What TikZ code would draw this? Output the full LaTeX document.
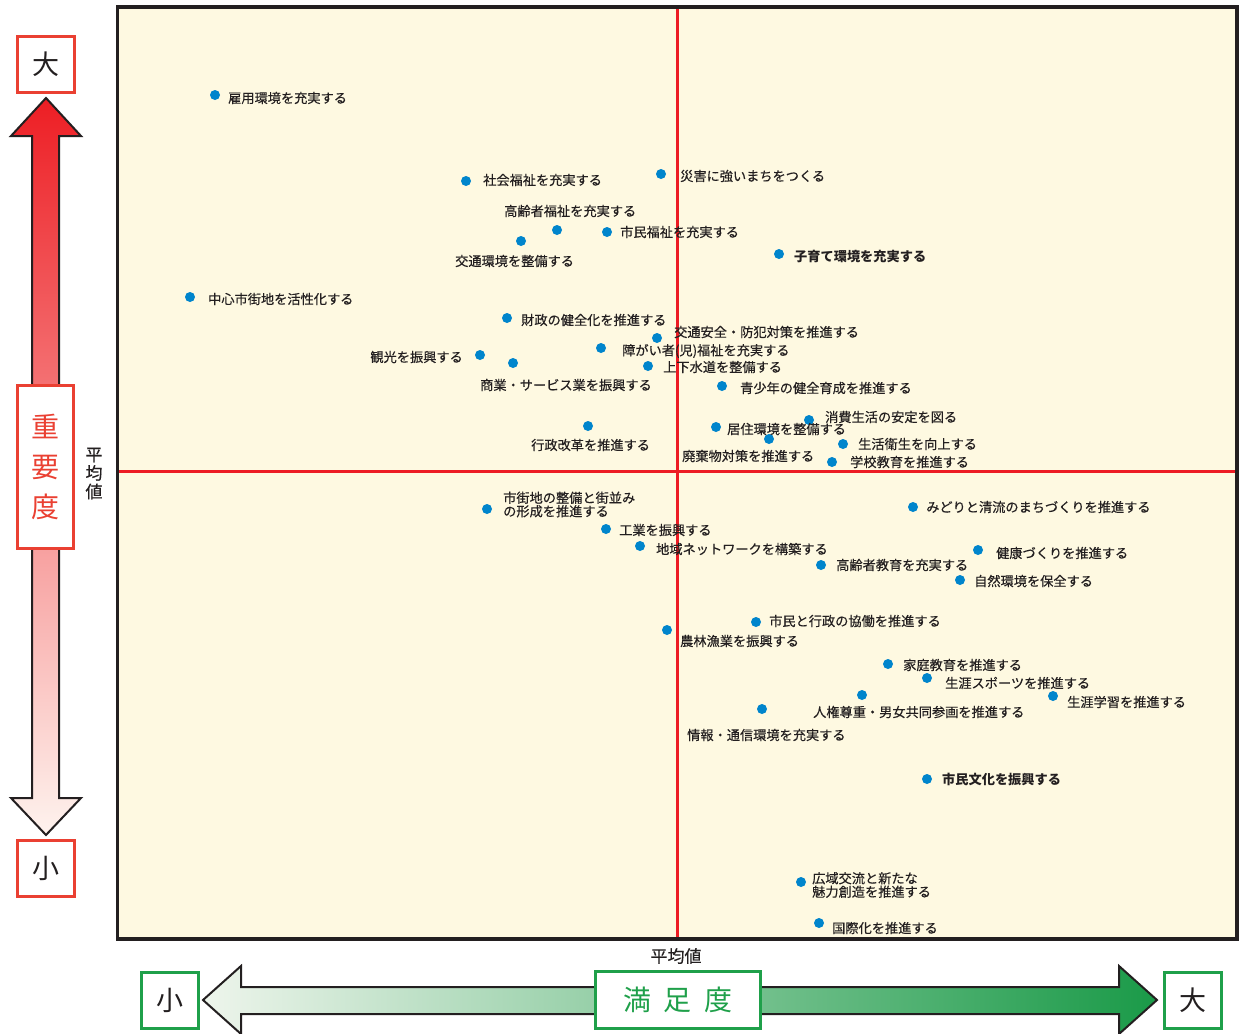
\documentclass[tikz,border=0pt]{standalone}
\usepackage{fontspec}
\setmainfont{Noto Sans CJK JP}
\newfontfamily\labelfont{Noto Sans CJK JP}[FakeBold=0.4]
\definecolor{cream}{RGB}{254,249,225}
\definecolor{inkblack}{RGB}{35,31,32}
\definecolor{avgred}{RGB}{237,28,36}
\definecolor{dotblue}{RGB}{0,133,204}
\definecolor{boxred}{RGB}{234,64,50}
\definecolor{boxgreen}{RGB}{31,160,74}
\definecolor{redtop}{RGB}{237,30,36}
\definecolor{redmid}{RGB}{242,128,96}
\definecolor{redbot}{RGB}{254,243,238}
\definecolor{greenleft}{RGB}{238,245,236}
\definecolor{greenmid}{RGB}{150,202,146}
\definecolor{greenright}{RGB}{26,154,72}
\begin{document}
\begin{tikzpicture}[x=1pt,y=-1pt,
  dot/.style={circle, fill=dotblue, draw=none, minimum size=10pt, inner sep=0pt},
  lbl/.style={anchor=west, inner sep=0pt, text=inkblack, font=\labelfont\fontsize{13.2}{13.5}\selectfont},
  endbox/.style={draw=#1, line width=3pt, fill=white, minimum width=57pt, minimum height=56pt, inner sep=0pt, text=inkblack, font=\fontsize{27}{30}\selectfont}]
\useasboundingbox (0,0) rectangle (1243,1034);
% plot area
\fill[cream] (117.5,7) rectangle (1237,939);
\draw[avgred, line width=3pt] (677,7) -- (677,939);
\draw[avgred, line width=3pt] (117.5,471) -- (1237,471);
% upper left
\node [dot] (d1) at (215,95) {};
\node [lbl] (l1) at (228,98) {雇用環境を充実する};
\node [dot] (d2) at (466,181) {};
\node [lbl] (l2) at (483,180) {社会福祉を充実する};
\node [dot] (d3) at (661,174) {};
\node [lbl] (l3) at (680,176) {災害に強いまちをつくる};
\node [dot] (d4) at (557,230) {};
\node [lbl] (l4) at (504,211) {高齢者福祉を充実する};
\node [dot] (d5) at (607,232) {};
\node [lbl] (l5) at (620,232) {市民福祉を充実する};
\node [dot] (d6) at (521,241) {};
\node [lbl] (l6) at (455,261) {交通環境を整備する};
\node [dot] (d7) at (779,254) {};
\node [lbl, font=\fontsize{13.2}{13.5}\selectfont\bfseries] (l7) at (794,257) {子育て環境を充実する};
\node [dot] (d8) at (190,297) {};
\node [lbl] (l8) at (208,299) {中心市街地を活性化する};
\node [dot] (d9) at (507,318) {};
\node [lbl] (l9) at (521,320) {財政の健全化を推進する};
\node [dot] (d10) at (657,338) {};
\node [lbl] (l10) at (674,332) {交通安全・防犯対策を推進する};
\node [dot] (d11) at (601,348) {};
\node [lbl] (l11) at (622,351) {障がい者(児)福祉を充実する};
\node [dot] (d12) at (480,355) {};
\node [lbl, anchor=east] (l12) at (463,357) {観光を振興する};
\node [dot] (d13) at (513,363) {};
\node [lbl] (l13) at (480,385) {商業・サービス業を振興する};
\node [dot] (d14) at (648,366) {};
\node [lbl] (l14) at (663,367) {上下水道を整備する};
\node [dot] (d15) at (722,386) {};
\node [lbl] (l15) at (740,388) {青少年の健全育成を推進する};
\node [dot] (d16) at (809,420) {};
\node [lbl] (l16) at (825,417) {消費生活の安定を図る};
\node [dot] (d17) at (716,427) {};
\node [lbl] (l17) at (727,429) {居住環境を整備する};
\node [dot] (d18) at (588,426) {};
\node [lbl] (l18) at (531,445) {行政改革を推進する};
\node [dot] (d19) at (769,439) {};
\node [lbl] (l19) at (682,456) {廃棄物対策を推進する};
\node [dot] (d20) at (843,444) {};
\node [lbl] (l20) at (858,444) {生活衛生を向上する};
\node [dot] (d21) at (832,462) {};
\node [lbl] (l21) at (850,462) {学校教育を推進する};
% lower half
\node [dot] (d22) at (487,509) {};
\node [lbl, align=left] (l22) at (503,504.5) {市街地の整備と街並み\\の形成を推進する};
\node [dot] (d23) at (913,507) {};
\node [lbl] (l23) at (926,507) {みどりと清流のまちづくりを推進する};
\node [dot] (d24) at (606,529) {};
\node [lbl] (l24) at (619,530) {工業を振興する};
\node [dot] (d25) at (640,546) {};
\node [lbl] (l25) at (656,549) {地域ネットワークを構築する};
\node [dot] (d26) at (978,550) {};
\node [lbl] (l26) at (996,553) {健康づくりを推進する};
\node [dot] (d27) at (821,565) {};
\node [lbl] (l27) at (836,565) {高齢者教育を充実する};
\node [dot] (d28) at (960,580) {};
\node [lbl] (l28) at (974,581) {自然環境を保全する};
\node [dot] (d29) at (756,622) {};
\node [lbl] (l29) at (769,621) {市民と行政の協働を推進する};
\node [dot] (d30) at (667,630) {};
\node [lbl] (l30) at (680,641) {農林漁業を振興する};
\node [dot] (d31) at (888,664) {};
\node [lbl] (l31) at (903,665) {家庭教育を推進する};
\node [dot] (d32) at (927,678) {};
\node [lbl] (l32) at (945,683) {生涯スポーツを推進する};
\node [dot] (d33) at (1053,696) {};
\node [lbl] (l33) at (1067,702) {生涯学習を推進する};
\node [dot] (d34) at (862,695) {};
\node [lbl] (l34) at (813,712) {人権尊重・男女共同参画を推進する};
\node [dot] (d35) at (762,709) {};
\node [lbl] (l35) at (687,735) {情報・通信環境を充実する};
\node [dot] (d36) at (927,779) {};
\node [lbl, font=\fontsize{13.2}{13.5}\selectfont\bfseries] (l36) at (942,779) {市民文化を振興する};
\node [dot] (d37) at (801,882) {};
\node [lbl, align=left] (l37) at (812,885) {広域交流と新たな\\魅力創造を推進する};
\node [dot] (d38) at (819,923) {};
\node [lbl] (l38) at (832,928) {国際化を推進する};
\draw[inkblack, line width=3.5pt] (117.5,7) rectangle (1237,939);
% importance axis
\shadedraw[top color=redtop, middle color=redmid, bottom color=redbot, draw=inkblack, line width=2pt]
  (32,798) -- (32,136) -- (11,136) -- (46,98) -- (81,136) -- (59,136) -- (59,798) -- (81,798) -- (46,835) -- (11,798) -- cycle;
\node [endbox=boxred] (impbig) at (46,64.5) {大};
\node [endbox=boxred] (impsmall) at (45.5,868.5) {小};
\node [draw=boxred, line width=3pt, fill=white, minimum width=56pt, minimum height=163pt, inner sep=0pt, align=center, text=boxred, font=\fontsize{28}{40}\selectfont] (imp) at (45.5,467) {重\\要\\度};
\node [align=center, inner sep=0pt, text=inkblack, font=\labelfont\fontsize{17}{18.5}\selectfont] (impavg) at (94,473.5) {平\\均\\値};
% satisfaction axis
\shadedraw[left color=greenleft, middle color=greenmid, right color=greenright, draw=inkblack, line width=2pt]
  (241,987) -- (1119,987) -- (1119,966) -- (1157,1000) -- (1119,1034) -- (1119,1014) -- (241,1014) -- (241,1034) -- (203,1000) -- (241,966) -- cycle;
\node [endbox=boxgreen] (satsmall) at (170,1000.5) {小};
\node [endbox=boxgreen] (satbig) at (1193,1000.5) {大};
\node [draw=boxgreen, line width=3pt, fill=white, minimum width=165pt, minimum height=57pt, inner sep=0pt, text=boxgreen, font=\fontsize{28}{30}\selectfont] (sat) at (678,1000) {満\hspace{13pt}足\hspace{13pt}度};
\node [inner sep=0pt, text=inkblack, font=\labelfont\fontsize{17}{18}\selectfont] (satavg) at (676,956) {平均値};
\end{tikzpicture}
\end{document}
